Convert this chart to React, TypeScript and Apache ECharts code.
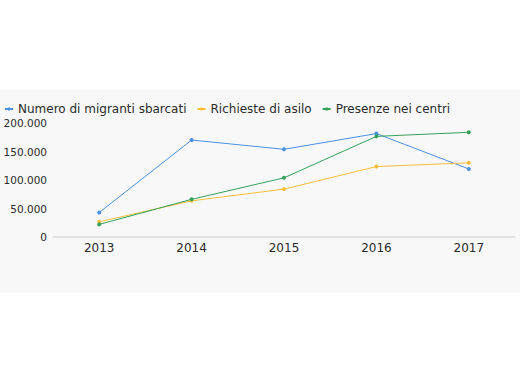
import React, { useEffect, useRef } from "react";
import * as echarts from "echarts";

const years = ["2013", "2014", "2015", "2016", "2017"];
const sbarcati = [42925, 170100, 153842, 181436, 119369];
const richieste = [26620, 63456, 83970, 123600, 130119];
const presenze = [22118, 66066, 103792, 176554, 183681];
const seriesNames = ["Numero di migranti sbarcati", "Richieste di asilo", "Presenze nei centri"];
const colors = ["#4a90e2", "#fbbf3c", "#34a05a"];

const fmt = (v: number) => String(v).replace(/\B(?=(\d{3})+(?!\d))/g, ".");
const FONT = "DejaVu Sans";

export default function App() {
  const ref = useRef<HTMLDivElement>(null);
  useEffect(() => {
    if (!ref.current) return;
    const chart = echarts.init(ref.current, null, { renderer: "svg" });
    const data = [sbarcati, richieste, presenze];
    chart.setOption({
      animation: false,
      backgroundColor: "#f8f8f8",
      textStyle: { fontFamily: FONT },
      legend: {
        left: 4,
        top: 13,
        padding: 0,
        itemWidth: 8,
        itemHeight: 4,
        itemGap: 10,
        textStyle: { fontSize: 12, color: "#2b2b2b", fontFamily: FONT },
        data: seriesNames,
      },
      grid: { left: 53, right: 5, top: 33, bottom: 56, containLabel: false, outerBoundsMode: "none" },
      xAxis: {
        type: "category",
        data: years,
        boundaryGap: true,
        axisLine: { lineStyle: { color: "#dcdcdc", width: 1.5 } },
        axisTick: { show: false },
        axisLabel: { fontSize: 12, color: "#2b2b2b", margin: 5, fontFamily: FONT },
      },
      yAxis: {
        type: "value",
        min: 0,
        max: 200000,
        interval: 50000,
        splitLine: { show: false },
        axisLine: { show: false },
        axisTick: { show: false },
        axisLabel: { fontSize: 10.5, color: "#2b2b2b", margin: 6, fontFamily: FONT, formatter: (v: number) => fmt(v) },
      },
      series: seriesNames.map((name, i) => ({
        name,
        type: "line",
        data: data[i],
        color: colors[i],
        symbol: "circle",
        symbolSize: 4,
        lineStyle: { width: 1, color: colors[i] },
        itemStyle: { color: colors[i] },
      })),
    });
    return () => chart.dispose();
  }, []);
  return (
    <div style={{ position: "absolute", left: 0, top: 0, width: 520, height: 385, background: "#fff" }}>
      <div ref={ref} style={{ position: "absolute", left: 0, top: 90, width: 520, height: 203 }} />
    </div>
  );
}
